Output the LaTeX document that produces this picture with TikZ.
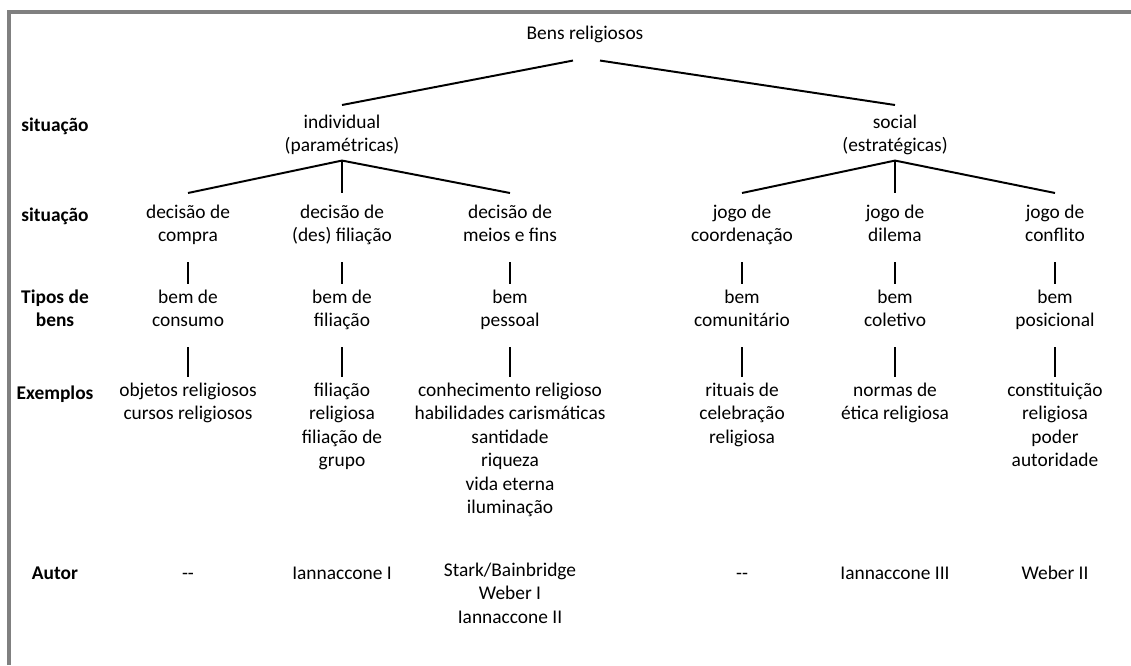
\documentclass[tikz,border=0pt]{standalone}
\usepackage{fontspec}
\setmainfont{Carlito}

\begin{document}
\begin{tikzpicture}[x=0.025cm,y=-0.025cm,
	every node/.style={inner sep=0pt,align=center,anchor=north,font=\fontsize{13.8}{16.7}\selectfont,
		execute at begin node=\strut,execute at end node=\strut},
	rowlabel/.style={font=\fontsize{13.8}{16.7}\selectfont\bfseries},
	branch/.style={line width=1.4pt}]

	\useasboundingbox (0,0) rectangle (1131,665);
	\draw[gray,line width=2.2pt] (9,665) -- (9,12) -- (1131,12);

	% row labels
	\node[rowlabel] (lab1) at (55,114.5) {situação};
	\node[rowlabel] (lab2) at (55,204.5) {situação};
	\node[rowlabel] (lab3) at (55,289.5) {Tipos de\\bens};
	\node[rowlabel] (lab4) at (55,382.5) {Exemplos};
	\node[rowlabel] (lab5) at (55,562.5) {Autor};

	\node (bens) at (585,22.5) {Bens religiosos};
	\node (ind) at (342,114.5) {individual\\(paramétricas)};
	\node (soc) at (895,114.5) {social\\(estratégicas)};

	\node (dc1) at (188,204.5) {decisão de\\compra};
	\node (dc2) at (342,204.5) {decisão de\\(des) filiação};
	\node (dc3) at (510,204.5) {decisão de\\meios e fins};
	\node (jg1) at (742,204.5) {jogo de\\coordenação};
	\node (jg2) at (895,204.5) {jogo de\\dilema};
	\node (jg3) at (1055,204.5) {jogo de\\conflito};

	\node (bem1) at (188,289.5) {bem de\\consumo};
	\node (bem2) at (342,289.5) {bem de\\filiação};
	\node (bem3) at (510,289.5) {bem\\pessoal};
	\node (bem4) at (742,289.5) {bem\\comunitário};
	\node (bem5) at (895,289.5) {bem\\coletivo};
	\node (bem6) at (1055,289.5) {bem\\posicional};

	\node (ex1) at (188,382.5) {objetos religiosos\\cursos religiosos};
	\node (ex2) at (342,382.5) {filiação\\religiosa\\filiação de\\grupo};
	\node (ex3) at (510,382.5) {conhecimento religioso\\habilidades carismáticas\\santidade\\riqueza\\vida eterna\\iluminação};
	\node (ex4) at (742,382.5) {rituais de\\celebração\\religiosa};
	\node (ex5) at (895,382.5) {normas de\\ética religiosa};
	\node (ex6) at (1055,382.5) {constituição\\religiosa\\poder\\autoridade};

	\node (au1) at (188,562.5) {-{}-};
	\node (au2) at (342,562.5) {Iannaccone I};
	\node (au3) at (510,562.5) {Stark/Bainbridge\\Weber I\\Iannaccone II};
	\node (au4) at (742,562.5) {-{}-};
	\node (au5) at (895,562.5) {Iannaccone III};
	\node (au6) at (1055,562.5) {Weber II};

	\draw[branch] ([shift={(-12,14)}]bens.south) -- ([shift={(0,-9.5)}]ind.north);
	\draw[branch] ([shift={(15,14)}]bens.south) -- ([shift={(0,-9.5)}]soc.north);

	\foreach \a/\b in {ind/dc1,ind/dc2,ind/dc3,soc/jg1,soc/jg2,soc/jg3}
		\draw[branch] ([shift={(0,1.5)}]\a.south) -- ([shift={(0,-11.5)}]\b.north);

	\foreach \a/\b in {dc1/bem1,dc2/bem2,dc3/bem3,jg1/bem4,jg2/bem5,jg3/bem6,
		bem1/ex1,bem2/ex2,bem3/ex3,bem4/ex4,bem5/ex5,bem6/ex6}
		\draw[branch] ([shift={(0,13)}]\a.south) -- ([shift={(0,-5.5)}]\b.north);

\end{tikzpicture}
\end{document}
